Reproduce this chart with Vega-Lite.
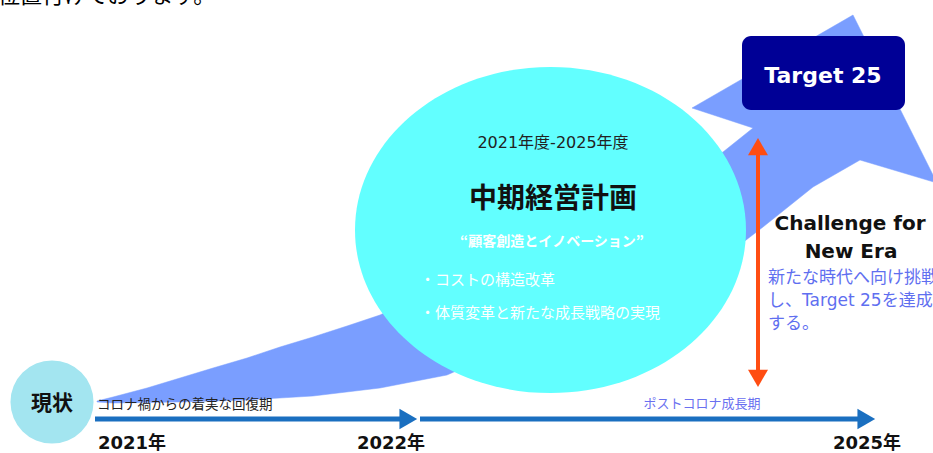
{
  "$schema": "https://vega.github.io/schema/vega-lite/v6.json",
  "width": 933,
  "height": 453,
  "autosize": {"type": "fit", "contains": "padding"},
  "padding": 0,
  "background": "#ffffff",
  "config": {"view": {"stroke": null}},
  "encoding": {
    "x": {"field": "x", "type": "quantitative", "scale": {"domain": [0, 933], "nice": false, "zero": false}, "axis": null},
    "y": {"field": "y", "type": "quantitative", "scale": {"domain": [0, 453], "nice": false, "zero": false, "reverse": true}, "axis": null}
  },
  "layer": [
    {
      "data": {"values": [{"t": "位置付けております。", "x": -2, "y": 3}]},
      "mark": {"type": "text", "align": "left", "baseline": "alphabetic", "fontSize": 22, "font": "Noto Sans CJK JP", "color": "#000000", "clip": true},
      "encoding": {"text": {"field": "t"}}
    },
    {
      "data": {"values": [
        {"i": 1, "x": 97, "y": 401}, {"i": 2, "x": 113, "y": 397}, {"i": 3, "x": 147, "y": 388},
        {"i": 4, "x": 180, "y": 378}, {"i": 5, "x": 213, "y": 368}, {"i": 6, "x": 247, "y": 358},
        {"i": 7, "x": 280, "y": 347}, {"i": 8, "x": 313, "y": 337}, {"i": 9, "x": 347, "y": 326},
        {"i": 10, "x": 380, "y": 315}, {"i": 11, "x": 723, "y": 152}, {"i": 12, "x": 753, "y": 128},
        {"i": 13, "x": 692, "y": 108}, {"i": 14, "x": 853, "y": 15}, {"i": 15, "x": 937, "y": 183},
        {"i": 16, "x": 860, "y": 160}, {"i": 17, "x": 813, "y": 187}, {"i": 18, "x": 763, "y": 227},
        {"i": 19, "x": 737, "y": 247}, {"i": 20, "x": 447, "y": 375}, {"i": 21, "x": 380, "y": 388},
        {"i": 22, "x": 313, "y": 396}, {"i": 23, "x": 247, "y": 400}, {"i": 24, "x": 180, "y": 402},
        {"i": 25, "x": 113, "y": 403}, {"i": 26, "x": 97, "y": 402}
      ]},
      "mark": {"type": "line", "interpolate": "linear-closed", "fill": "#7a9eff", "stroke": "#7a9eff", "strokeWidth": 0.5, "clip": true},
      "encoding": {"order": {"field": "i", "type": "quantitative"}}
    },
    {
      "data": {"values": [{"x": 52, "y": 402}]},
      "mark": {"type": "point", "shape": "circle", "size": 6900, "filled": true, "opacity": 1, "color": "#a3e5f0", "strokeWidth": 0}
    },
    {
      "data": {"values": [{"x": 550.5, "y": 230}]},
      "mark": {"type": "point", "shape": "M -1 0 A 1 0.834 0 1 1 1 0 A 1 0.834 0 1 1 -1 0 Z", "size": 152881, "filled": true, "opacity": 1, "color": "#62ffff", "strokeWidth": 0}
    },
    {
      "data": {"values": [{"x": 742, "x2": 905, "y": 36, "y2": 110}]},
      "mark": {"type": "rect", "cornerRadius": 9, "color": "#000096"},
      "encoding": {"x2": {"field": "x2"}, "y2": {"field": "y2"}}
    },
    {
      "data": {"values": [{"x": 758, "y": 152, "y2": 372}]},
      "mark": {"type": "rule", "strokeWidth": 4, "color": "#ff4d12"},
      "encoding": {"y2": {"field": "y2"}}
    },
    {
      "data": {"values": [{"x": 758, "y": 146.7}]},
      "mark": {"type": "point", "shape": "triangle-up", "size": 400, "filled": true, "opacity": 1, "color": "#ff4d12", "strokeWidth": 0}
    },
    {
      "data": {"values": [{"x": 758, "y": 378.3}]},
      "mark": {"type": "point", "shape": "triangle-down", "size": 400, "filled": true, "opacity": 1, "color": "#ff4d12", "strokeWidth": 0}
    },
    {
      "data": {"values": [{"x": 95, "x2": 402, "y": 419}, {"x": 420, "x2": 860, "y": 419}]},
      "mark": {"type": "rule", "strokeWidth": 5, "color": "#1a6fc0"},
      "encoding": {"x2": {"field": "x2"}}
    },
    {
      "data": {"values": [{"x": 408.3, "y": 419}, {"x": 866.3, "y": 419}]},
      "mark": {"type": "point", "shape": "triangle-right", "size": 420, "filled": true, "opacity": 1, "color": "#1a6fc0", "strokeWidth": 0}
    },
    {
      "data": {"values": [{"t": "現状", "x": 52, "y": 404}]},
      "mark": {"type": "text", "align": "center", "baseline": "middle", "fontSize": 21, "fontWeight": "bold", "font": "Noto Sans CJK JP", "color": "#111111"},
      "encoding": {"text": {"field": "t"}}
    },
    {
      "data": {"values": [{"t": "コロナ禍からの着実な回復期", "x": 97, "y": 405}]},
      "mark": {"type": "text", "align": "left", "baseline": "middle", "fontSize": 13.5, "font": "Noto Sans CJK JP", "color": "#222222"},
      "encoding": {"text": {"field": "t"}}
    },
    {
      "data": {"values": [{"t": "ポストコロナ成長期", "x": 702, "y": 404}]},
      "mark": {"type": "text", "align": "center", "baseline": "middle", "fontSize": 13, "font": "Noto Sans CJK JP", "color": "#6a70f0"},
      "encoding": {"text": {"field": "t"}}
    },
    {
      "data": {"values": [{"t": "2021年", "x": 98, "y": 444}, {"t": "2022年", "x": 357, "y": 444}, {"t": "2025年", "x": 833, "y": 444}]},
      "mark": {"type": "text", "align": "left", "baseline": "middle", "fontSize": 18, "fontWeight": "bold", "font": "DejaVu Sans, Noto Sans CJK JP", "color": "#111111"},
      "encoding": {"text": {"field": "t"}}
    },
    {
      "data": {"values": [{"t": "2021年度-2025年度", "x": 553, "y": 143}]},
      "mark": {"type": "text", "align": "center", "baseline": "middle", "fontSize": 16, "font": "DejaVu Sans, Noto Sans CJK JP", "color": "#222222"},
      "encoding": {"text": {"field": "t"}}
    },
    {
      "data": {"values": [{"t": "中期経営計画", "x": 553, "y": 200}]},
      "mark": {"type": "text", "align": "center", "baseline": "middle", "fontSize": 28, "fontWeight": "bold", "font": "Noto Sans CJK JP", "color": "#111111"},
      "encoding": {"text": {"field": "t"}}
    },
    {
      "data": {"values": [{"t": "“顧客創造とイノベーション”", "x": 552, "y": 242}]},
      "mark": {"type": "text", "align": "center", "baseline": "middle", "fontSize": 14, "fontWeight": "bold", "font": "Noto Sans CJK JP", "color": "#ffffff"},
      "encoding": {"text": {"field": "t"}}
    },
    {
      "data": {"values": [{"t": "・コストの構造改革", "x": 420, "y": 280}, {"t": "・体質変革と新たな成長戦略の実現", "x": 420, "y": 313}]},
      "mark": {"type": "text", "align": "left", "baseline": "middle", "fontSize": 15, "font": "Noto Sans CJK JP", "color": "#ffffff"},
      "encoding": {"text": {"field": "t"}}
    },
    {
      "data": {"values": [{"t": "Target 25", "x": 823, "y": 76}]},
      "mark": {"type": "text", "align": "center", "baseline": "middle", "fontSize": 22, "fontWeight": "bold", "font": "DejaVu Sans", "color": "#ffffff"},
      "encoding": {"text": {"field": "t"}}
    },
    {
      "data": {"values": [{"t": "Challenge for", "x": 850, "y": 224}, {"t": "New Era", "x": 851, "y": 252}]},
      "mark": {"type": "text", "align": "center", "baseline": "middle", "fontSize": 20, "fontWeight": "bold", "font": "DejaVu Sans", "color": "#111111", "clip": true},
      "encoding": {"text": {"field": "t"}}
    },
    {
      "data": {"values": [{"t": "新たな時代へ向け挑戦", "x": 768, "y": 278}, {"t": "し、Target 25を達成", "x": 768, "y": 301}, {"t": "する。", "x": 768, "y": 324}]},
      "mark": {"type": "text", "align": "left", "baseline": "middle", "fontSize": 17, "font": "DejaVu Sans, Noto Sans CJK JP", "color": "#5f6ff0", "clip": true},
      "encoding": {"text": {"field": "t"}}
    }
  ]
}
